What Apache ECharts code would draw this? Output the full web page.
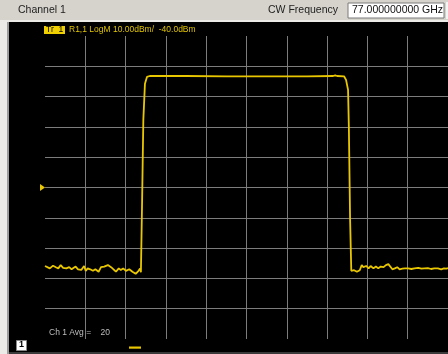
<!DOCTYPE html>
<html>
<head>
<meta charset="utf-8">
<style>
  html, body { margin: 0; padding: 0; background: #000; }
  #chart { width: 448px; height: 354px; }
</style>
<script src="https://cdn.jsdelivr.net/npm/echarts@6/dist/echarts.min.js"></script>
</head>
<body>
<div id="chart"></div>
<script>
// Sweep position (horizontal divisions, 0..10) and measured power (dBm)
const lowFloorX = [0.00, 0.04, 0.12, 0.20, 0.27, 0.33, 0.39, 0.45, 0.53, 0.60, 0.66, 0.70, 0.76, 0.82, 0.90, 0.97, 1.01, 1.06, 1.12, 1.19, 1.25, 1.33, 1.39, 1.47, 1.56, 1.64, 1.70, 1.76, 1.83, 1.88, 1.94, 2.01, 2.09, 2.17, 2.25, 2.32, 2.36];
const lowFloorY = [-65.9, -66.3, -66.7, -65.8, -66.3, -66.7, -65.6, -66.5, -66.7, -66.3, -67.0, -66.7, -66.1, -67.0, -67.2, -65.9, -67.5, -66.7, -67.0, -67.5, -67.0, -67.8, -66.3, -66.1, -65.6, -66.3, -67.0, -67.8, -66.7, -67.2, -66.7, -67.5, -67.0, -67.8, -68.5, -67.5, -66.7];

const riseX = [2.38, 2.41, 2.44, 2.48, 2.53];
const riseY = [-68.0, -44.1, -17.7, -5.8, -3.5];

const plateauX = [2.60, 3.50, 4.50, 5.50, 6.50, 7.15, 7.20, 7.25, 7.42];
const plateauY = [-3.2, -3.2, -3.3, -3.3, -3.3, -3.2, -3.0, -3.2, -3.3];

const fallX = [7.47, 7.52, 7.54, 7.57, 7.60];
const fallY = [-4.5, -7.8, -20.0, -50.0, -67.5];

const highFloorX = [7.62, 7.67, 7.74, 7.81, 7.86, 7.90, 7.97, 8.03, 8.08, 8.15, 8.21, 8.27, 8.33, 8.40, 8.46, 8.52, 8.56, 8.62, 8.68, 8.74, 8.80, 8.87, 8.93, 9.01, 9.09, 9.17, 9.26, 9.34, 9.42, 9.50, 9.58, 9.66, 9.75, 9.83, 9.90, 9.96, 10.00];
const highFloorY = [-67.5, -67.3, -67.8, -67.3, -65.6, -66.3, -65.9, -66.7, -65.9, -66.7, -66.1, -66.7, -66.1, -66.3, -65.6, -65.3, -65.9, -67.0, -66.7, -66.3, -67.0, -66.8, -66.7, -66.7, -66.9, -66.7, -66.5, -66.8, -66.7, -66.6, -66.9, -66.7, -66.7, -67.0, -66.7, -66.8, -66.6];

// Display scale: 10 dB/div, reference level -40 dBm
const scaleMin = -90;
const scaleMax = 10;
const scalePerDiv = 10;
const refLevel = -40;

const traceX = [].concat(lowFloorX, riseX, plateauX, fallX, highFloorX);
const traceY = [].concat(lowFloorY, riseY, plateauY, fallY, highFloorY);
const traceData = traceX.map((x, i) => [x, traceY[i]]);

const FONT = '"Liberation Sans", Arial, sans-serif';
const gridColor = '#7c7c7c';
const traceColor = '#e8c600';

const chart = echarts.init(document.getElementById('chart'), null, { renderer: 'canvas' });

const option = {
  backgroundColor: '#000',
  animation: false,
  grid: { left: 45, top: 36, width: 407, height: 303 },
  xAxis: {
    type: 'value', min: 0, max: 10, interval: 1,
    axisLine: { show: false }, axisTick: { show: false }, axisLabel: { show: false },
    splitLine: { show: true, showMinLine: false, showMaxLine: false, lineStyle: { color: gridColor, width: 1 } }
  },
  yAxis: {
    type: 'value', min: scaleMin, max: scaleMax, interval: scalePerDiv,
    axisLine: { show: false }, axisTick: { show: false }, axisLabel: { show: false },
    splitLine: { show: true, showMinLine: false, showMaxLine: false, lineStyle: { color: gridColor, width: 1 } }
  },
  series: [{
    type: 'line',
    data: traceData,
    showSymbol: false,
    smooth: false,
    lineStyle: { color: traceColor, width: 1.8 },
    z: 5
  }],
  graphic: [
    // window frame
    { type: 'rect', shape: { x: 0, y: 0, width: 448, height: 20 }, style: { fill: '#d6d3cc' }, z: 10 },
    { type: 'rect', shape: { x: 0, y: 20, width: 448, height: 2 }, style: { fill: '#ecebe8' }, z: 10 },
    { type: 'rect', shape: { x: 0, y: 20, width: 8, height: 334 }, style: { fill: '#ecebe8' }, z: 10 },
    { type: 'rect', shape: { x: 7, y: 22, width: 2, height: 332 }, style: { fill: '#9c9c9c' }, z: 10 },
    { type: 'rect', shape: { x: 9, y: 352, width: 439, height: 2 }, style: { fill: '#3a3a3a' }, z: 10 },
    { type: 'text', left: 18, top: 5, style: { text: 'Channel 1', font: '10.5px ' + FONT, fill: '#222' }, z: 11 },
    { type: 'text', right: 110, top: 5, style: { text: 'CW Frequency', font: '10.5px ' + FONT, fill: '#222', textAlign: 'right' }, z: 11 },
    { type: 'rect', shape: { x: 348, y: 3, width: 96, height: 15 }, style: { fill: '#fff', stroke: '#7a7a7a', lineWidth: 1 }, z: 11 },
    { type: 'text', left: 352, top: 5, style: { text: '77.000000000 GHz', font: '10.5px ' + FONT, fill: '#111' }, z: 12 },
    { type: 'rect', shape: { x: 446, y: 2, width: 2, height: 17 }, style: { fill: '#f4f4f4' }, z: 11 },
    // trace annotation
    { type: 'rect', shape: { x: 44, y: 26, width: 21, height: 8 }, style: { fill: '#f0d000' }, z: 11 },
    { type: 'text', left: 46, top: 25.5, style: { text: 'Tr  1', font: '8.5px ' + FONT, fill: '#000' }, z: 12 },
    { type: 'text', left: 69, top: 25.5, style: { text: 'R1,1 LogM 10.00dBm/  -40.0dBm', font: '8.5px ' + FONT, fill: '#e0c400' }, z: 12 },
    // averaging status
    { type: 'text', left: 49, top: 328, style: { text: 'Ch 1 Avg =    20', font: '8.5px ' + FONT, fill: '#bdbdbd' }, z: 4 },
    // channel indicator
    { type: 'rect', shape: { x: 16.5, y: 340.5, width: 10, height: 10 }, style: { fill: '#fff', stroke: '#888', lineWidth: 1 }, z: 11 },
    { type: 'text', left: 19, top: 340.5, style: { text: '1', font: 'bold 9px ' + FONT, fill: '#000' }, z: 12 },
    { type: 'rect', shape: { x: 129, y: 346.5, width: 12, height: 2.2 }, style: { fill: '#e8c600' }, z: 11 }
  ]
};
chart.setOption(option);

// reference-level marker on the left edge of the graticule
const refPix = chart.convertToPixel({ gridIndex: 0 }, [0, refLevel]);
chart.setOption({
  graphic: option.graphic.concat([{
    type: 'polygon',
    shape: { points: [[40, refPix[1] - 3.5], [40, refPix[1] + 3.5], [45, refPix[1]]] },
    style: { fill: traceColor },
    z: 11
  }])
});
</script>
</body>
</html>
